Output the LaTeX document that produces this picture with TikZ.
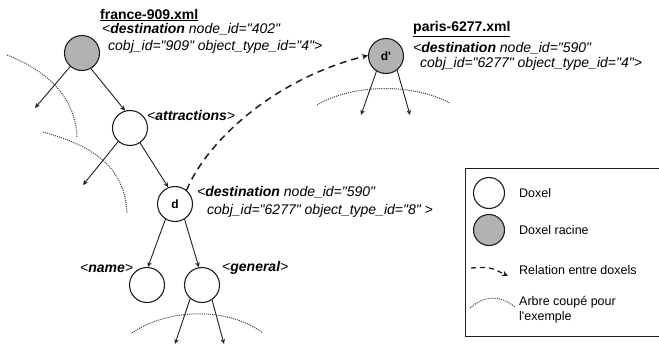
\documentclass[tikz,border=0pt]{standalone}
\usepackage{fontspec}
\setmainfont{Liberation Sans}[Ligatures=TeXOff]
\usetikzlibrary{arrows.meta}
\definecolor{ink}{RGB}{30,30,30}
\definecolor{rootgray}{RGB}{178,178,178}
\definecolor{cutgray}{RGB}{60,60,60}
\begin{document}
\begin{tikzpicture}[x=1pt,y=-1pt,
  doxel/.style={circle,draw=ink,line width=1.1pt,fill=white,minimum size=35pt,inner sep=0pt,
    font=\bfseries\fontsize{12}{12}\selectfont},
  racine/.style={doxel,fill=rootgray},
  edge/.style={draw=ink,line width=0.9pt,-{Stealth[length=5pt,width=4.5pt]}},
  rel/.style={draw=ink,line width=1.5pt,dash pattern=on 7pt off 5pt,-{Stealth[length=6pt,width=5.5pt]}},
  cut/.style={draw=cutgray,line width=1pt,dash pattern=on 1pt off 1.1pt},
  lbl/.style={anchor=west,inner sep=0pt,font=\itshape\fontsize{14}{14}\selectfont},
  leg/.style={anchor=west,inner sep=0pt,font=\fontsize{12.5}{15}\selectfont}
]
\useasboundingbox (0,0) rectangle (659,343);

% ---- tree of france-909.xml
\node[racine] (root) at (82,53) {};
\node[doxel] (attr) at (130,128) {};
\node[doxel] (d) at (175,204) {d};
\node[doxel] (name) at (147,285) {};
\node[doxel] (gen) at (202,285) {};

\coordinate (rootleft) at (35,108);
\coordinate (attrleft) at (83,185);
\coordinate (genleft) at (175,344);
\coordinate (genright) at (224,344);

\draw[edge] (root.229) -- (rootleft);
\draw[edge] (root.300) -- (attr.106);
\draw[edge] (attr.229) -- (attrleft);
\draw[edge] (attr.304) -- (d.112);
\draw[edge] (d.238) -- (name.87);
\draw[edge] (d.302) -- (gen.100);
\draw[edge] (gen.229) -- (genleft);
\draw[edge] (gen.304) -- (genright);

% ---- tree of paris-6277.xml
\node[racine] (dp) at (386,56) {d'};
\coordinate (dpleft) at (361,115);
\coordinate (dpright) at (410,115);
\draw[edge] (dp.238) -- (dpleft);
\draw[edge] (dp.308) -- (dpright);

% relation between d and d'
\draw[rel] (d.50) .. controls (205,145) and (270,80) .. (dp.178);

% cut marks of the trees
\draw[cut] (7,55) .. controls (45,70) and (75,95) .. (77,137);
\draw[cut] (43,132) .. controls (90,145) and (125,165) .. (127,213);
\draw[cut] (317,105) .. controls (350,85) and (410,82) .. (450,103);
\draw[cut] (132,333) .. controls (165,310) and (225,305) .. (263,333);

% ---- labels
\node[lbl,font=\bfseries\fontsize{14}{14}\selectfont] (tf) at (100,15) {\underline{france-909.xml}};
\node[lbl] (tf1) at (102,29) {<\textbf{destination} node\_id="402"};
\node[lbl] (tf2) at (108,47) {cobj\_id="909" object\_type\_id="4">};
\node[lbl] (la) at (147,115) {<\textbf{attractions}>};
\node[lbl,font=\bfseries\fontsize{14}{14}\selectfont] (tp) at (413,29) {\underline{paris-6277.xml}};
\node[lbl] (tp1) at (413,48) {<\textbf{destination} node\_id="590"};
\node[lbl] (tp2) at (420,64) {cobj\_id="6277" object\_type\_id="4">};
\node[lbl] (td1) at (197,192) {<\textbf{destination} node\_id="590"};
\node[lbl] (td2) at (207,211) {cobj\_id="6277" object\_type\_id="8" >};
\node[lbl] (ln) at (80,268) {<\textbf{name}>};
\node[lbl] (lg) at (222,268) {<\textbf{general}>};

% ---- legend
\node[draw=ink,line width=0.9pt,minimum width=200pt,minimum height=168pt,anchor=north west,inner sep=0pt] (legend) at (465,168) {};
\node[doxel,minimum size=31pt] (k1) at (489,193) {};
\node[racine,minimum size=31pt] (k2) at (489,230) {};
\coordinate (k3a) at (471,268);
\coordinate (k3b) at (508,276);
\draw[rel,line width=1.3pt,dash pattern=on 5pt off 4pt] (k3a) .. controls (490,267) .. (k3b);
\coordinate (k4a) at (470,308);
\coordinate (k4b) at (515,307);
\draw[cut] (k4a) .. controls (485,295) and (500,295) .. (k4b);
\node[leg] (t1) at (519,193) {Doxel};
\node[leg] (t2) at (519,230) {Doxel racine};
\node[leg] (t3) at (519,270) {Relation entre doxels};
\node[leg,align=left] (t4) at (519,310) {Arbre coupé pour\\l'exemple};
\end{tikzpicture}
\end{document}
